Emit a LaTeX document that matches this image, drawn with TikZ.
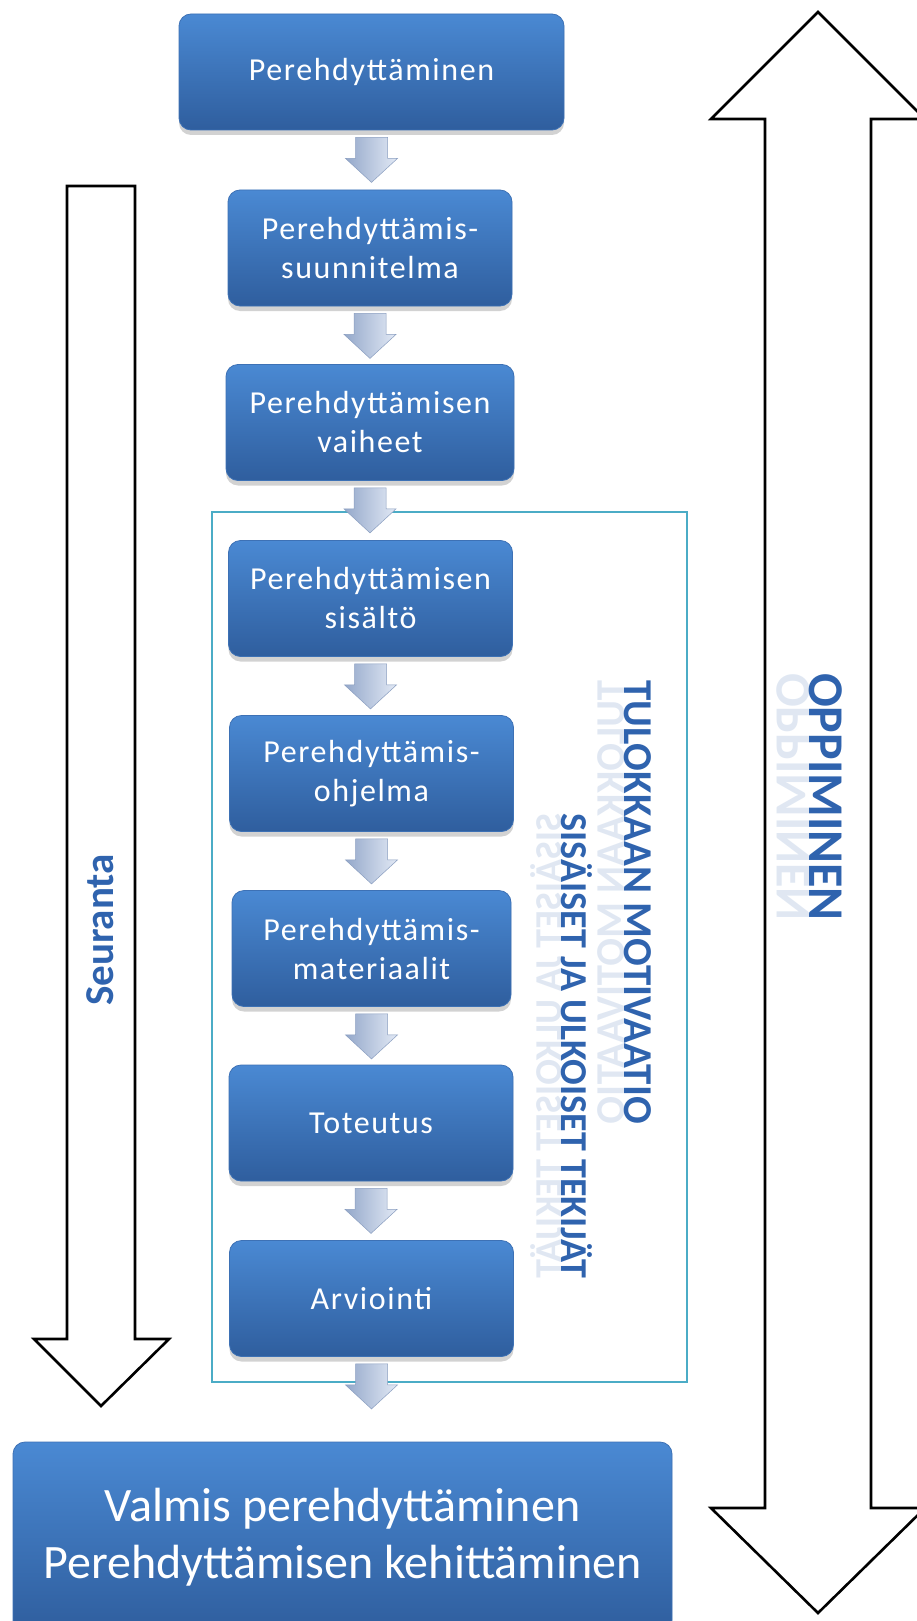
\documentclass[tikz,border=0pt]{standalone}
\usepackage{fontspec}
\setmainfont{Carlito}
\newfontfamily\boxfont[LetterSpace=5]{Carlito}
\usetikzlibrary{shadows,calc}

\definecolor{boxtop}{HTML}{4A89D3}
\definecolor{boxbottom}{HTML}{2F5E9E}
\definecolor{boxline}{HTML}{3D71B5}
\definecolor{arrowdark}{HTML}{94A8CA}
\definecolor{arrowlight}{HTML}{E2E9F5}
\definecolor{arrowline}{HTML}{8A9EC0}
\definecolor{framecyan}{HTML}{4BACC6}
\definecolor{labelblue}{HTML}{2F63AE}

\tikzset{
  stepbox/.style={draw=boxline, line width=0.8pt, rounded corners=12pt,
    top color=boxtop, bottom color=boxbottom, text=white, align=center,
    minimum width=284pt, minimum height=116pt, inner sep=0pt,
    font=\boxfont\fontsize{32}{39}\selectfont,
    drop shadow={opacity=0.35, shadow xshift=0pt, shadow yshift=-5pt}},
  flowfill/.style={draw=arrowline, line width=0.5pt, left color=arrowdark, right color=arrowlight},
  bigarrow/.style={draw=black, line width=2.6pt, fill=white, line join=miter},
  sidelabel/.style={text=labelblue, font=\bfseries\fontsize{#1}{#1}\selectfont, inner sep=0pt, anchor=base},
}

\newcommand{\flowarrow}[1]{%
  \path[flowfill] let \p1=(#1.south) in
    (\x1-16pt,\y1-7pt) -- (\x1+16pt,\y1-7pt) -- (\x1+16pt,\y1-28pt) -- (\x1+26pt,\y1-28pt)
    -- (\x1,\y1-52pt) -- (\x1-26pt,\y1-28pt) -- (\x1-16pt,\y1-28pt) -- cycle;}

\begin{document}
\begin{tikzpicture}[x=1pt, y=-1pt]
    \fill[white] (0,0) rectangle (916,1621);
    \useasboundingbox (0,0) rectangle (916,1621);

    % big outline arrows
    \draw[bigarrow]
    (67,186) -- (135,186) -- (135,1339) -- (169,1339) -- (101,1406) -- (34,1339) -- (67,1339) -- cycle;
    \draw[bigarrow]
    (818,12) -- (925,119) -- (871,119) -- (871,1508) -- (925,1508) -- (818,1613)
    -- (711,1508) -- (765,1508) -- (765,119) -- (711,119) -- cycle;

    \draw[framecyan, line width=2.5pt] (212,512) rectangle (687,1382);

    % steps
    \node[stepbox, minimum width=385pt] (intro) at (371.5,72) {Perehdyttäminen};
    \node[stepbox] (plan) at (370,248) {Perehdyttämis-\\suunnitelma};
    \node[stepbox, minimum width=288pt] (phases) at (370,422.5) {Perehdyttämisen\\vaiheet};
    \node[stepbox] (content) at (370.5,598.5) {Perehdyttämisen\\sisältö};
    \node[stepbox] (program) at (371.5,773.5) {Perehdyttämis-\\ohjelma};
    \node[stepbox, minimum width=279pt] (material) at (371.5,948.5) {Perehdyttämis-\\materiaalit};
    \node[stepbox] (realize) at (371,1123) {Toteutus};
    \node[stepbox] (evaluate) at (371.5,1298.5) {Arviointi};
    \node[stepbox, minimum width=659pt, minimum height=190pt, font=\fontsize{48}{57}\selectfont]
    (ready) at (342.5,1537) {Valmis perehdyttäminen\\Perehdyttämisen kehittäminen};

    \flowarrow{intro}
    \flowarrow{plan}
    \flowarrow{phases}
    \flowarrow{content}
    \flowarrow{program}
    \flowarrow{material}
    \flowarrow{realize}
    \flowarrow{evaluate}

    % side labels
    \node[sidelabel=41, rotate=90] (follow) at (113,930) {Seuranta};
    \node[sidelabel=41, rotate=-90] (motiv) at (624,902) {TULOKKAAN MOTIVAATIO};
    \node[sidelabel=41, rotate=-90, yscale=-1, opacity=0.15] at (624,902) {TULOKKAAN MOTIVAATIO};
    \node[sidelabel=38, rotate=-90] (factors) at (561,1046) {SISÄISET JA ULKOISET TEKIJÄT};
    \node[sidelabel=38, rotate=-90, yscale=-1, opacity=0.15] at (561,1046) {SISÄISET JA ULKOISET TEKIJÄT};
    \node[sidelabel=50, rotate=-90] (learn) at (809,797) {OPPIMINEN};
    \node[sidelabel=50, rotate=-90, yscale=-1, opacity=0.15] at (809,797) {OPPIMINEN};

\end{tikzpicture}
\end{document}
